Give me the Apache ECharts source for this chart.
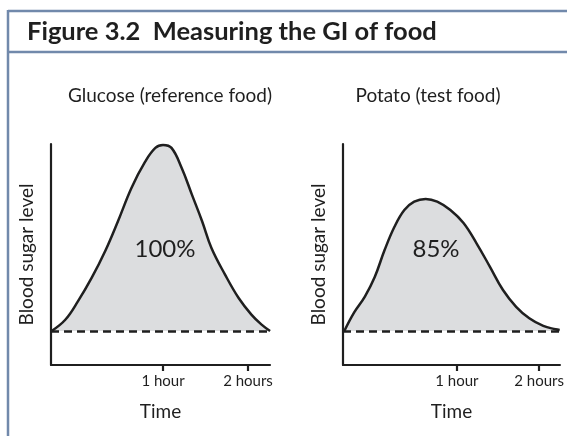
<!DOCTYPE html>
<html lang="en">
<head>
    <meta charset="UTF-8">
    <title>Figure 3.2 Measuring the GI of food</title>
    <script src="https://cdn.jsdelivr.net/npm/echarts@6/dist/echarts.min.js"></script>
    <style>
        html, body { margin: 0; padding: 0; background: #fff; }
        #chart { width: 567px; height: 436px; }
    </style>
</head>
<body>
    <div id="chart"></div>
    <script>
        // time in hours, blood sugar above the fasting baseline (glucose peak = 100)
        var glucoseCurve = [
            [-0.31, 0], [-0.15, 6], [0.0, 16], [0.16, 28.5], [0.32, 43], [0.47, 59],
            [0.63, 77], [0.79, 91], [0.91, 98.4], [1.0, 100], [1.1, 98.4], [1.22, 87.6],
            [1.34, 73.3], [1.46, 59], [1.57, 44.6], [1.73, 30.3], [1.89, 17.7],
            [2.04, 8.8], [2.16, 3.4], [2.26, 0]
        ];
        var potatoCurve = [
            [-0.37, 0], [-0.25, 10], [-0.12, 18.5], [0.0, 29], [0.12, 43.5], [0.24, 56],
            [0.36, 65], [0.48, 69.5], [0.62, 71], [0.76, 69.5], [0.92, 65], [1.08, 58],
            [1.24, 47], [1.4, 34.6], [1.56, 22], [1.72, 13], [1.88, 6.8], [2.05, 2.7],
            [2.2, 0.9], [2.25, 0.5]
        ];
        var tickHours = [1, 2];
        var tickNames = ['1 hour', '2 hours'];
        var panelTitles = ['Glucose (reference food)', 'Potato (test food)'];
        var panelPercents = ['100%', '85%'];

        var font = 'Lato';
        var ink = '#1f1f1f';
        var frame = '#7189ab';

        var myChart = echarts.init(document.getElementById('chart'));

        function xAxisFor(i, min, max) {
            return {
                type: 'value', gridIndex: i, min: min, max: max,
                name: 'Time', nameLocation: 'middle', nameGap: 37,
                nameTextStyle: { fontFamily: font, fontSize: 19, color: ink },
                axisLine: { onZero: false, lineStyle: { color: ink, width: 2.2 } },
                axisTick: { show: true, customValues: tickHours, length: 6, inside: false,
                    lineStyle: { color: ink, width: 2.2 } },
                axisLabel: { customValues: tickHours, margin: 9, fontFamily: font, fontSize: 15, color: ink,
                    formatter: function (v) { return tickNames[tickHours.indexOf(v)]; } },
                splitLine: { show: false }
            };
        }
        function yAxisFor(i) {
            return {
                type: 'value', gridIndex: i, min: -18.3, max: 100.5,
                name: 'Blood sugar level', nameLocation: 'middle', nameGap: 15, nameRotate: 90,
                nameTextStyle: { fontFamily: font, fontSize: 19, color: ink },
                axisLine: { show: true, onZero: false, lineStyle: { color: ink, width: 2.2 } },
                axisTick: { show: false },
                axisLabel: { show: false },
                splitLine: { show: false }
            };
        }
        function curveSeries(i, data) {
            return {
                type: 'line', xAxisIndex: i, yAxisIndex: i, data: data,
                smooth: 0.4, showSymbol: false, silent: true,
                lineStyle: { color: ink, width: 2.5 },
                areaStyle: { color: '#dcdddf', opacity: 1, origin: 0 },
                markLine: {
                    silent: true, symbol: 'none', label: { show: false },
                    lineStyle: { color: ink, width: 2.5, type: [8, 5] },
                    data: [{ yAxis: 0 }]
                }
            };
        }

        var option = {
            animation: false,
            backgroundColor: '#fff',
            title: [
                { text: 'Figure 3.2  Measuring the GI of food', left: 22, top: 14,
                  textStyle: { fontFamily: font, fontSize: 25.5, fontWeight: 'bold', color: ink } },
                { text: panelTitles[0], left: 165, top: 81, textAlign: 'center',
                  textStyle: { fontFamily: font, fontSize: 19, fontWeight: 'normal', color: ink } },
                { text: panelTitles[1], left: 423, top: 81, textAlign: 'center',
                  textStyle: { fontFamily: font, fontSize: 19, fontWeight: 'normal', color: ink } },
                { text: panelPercents[0], left: 160, top: 232, textAlign: 'center',
                  textStyle: { fontFamily: font, fontSize: 24, fontWeight: 'normal', color: ink } },
                { text: panelPercents[1], left: 431, top: 232, textAlign: 'center',
                  textStyle: { fontFamily: font, fontSize: 24, fontWeight: 'normal', color: ink } }
            ],
            graphic: [
                { type: 'line', shape: { x1: 8, y1: 11, x2: 567, y2: 11 }, style: { stroke: frame, lineWidth: 2.5 } },
                { type: 'line', shape: { x1: 8, y1: 52, x2: 567, y2: 52 }, style: { stroke: frame, lineWidth: 2.5 } },
                { type: 'line', shape: { x1: 8, y1: 10, x2: 8, y2: 436 }, style: { stroke: frame, lineWidth: 2.5 } }
            ],
            grid: [
                { left: 51, right: 297, top: 144, bottom: 71 },
                { left: 343, right: 5, top: 144, bottom: 71 }
            ],
            xAxis: [xAxisFor(0, -0.318, 2.259), xAxisFor(1, -0.386, 2.253)],
            yAxis: [yAxisFor(0), yAxisFor(1)],
            series: [curveSeries(0, glucoseCurve), curveSeries(1, potatoCurve)]
        };

        myChart.setOption(option);
    </script>
</body>
</html>
